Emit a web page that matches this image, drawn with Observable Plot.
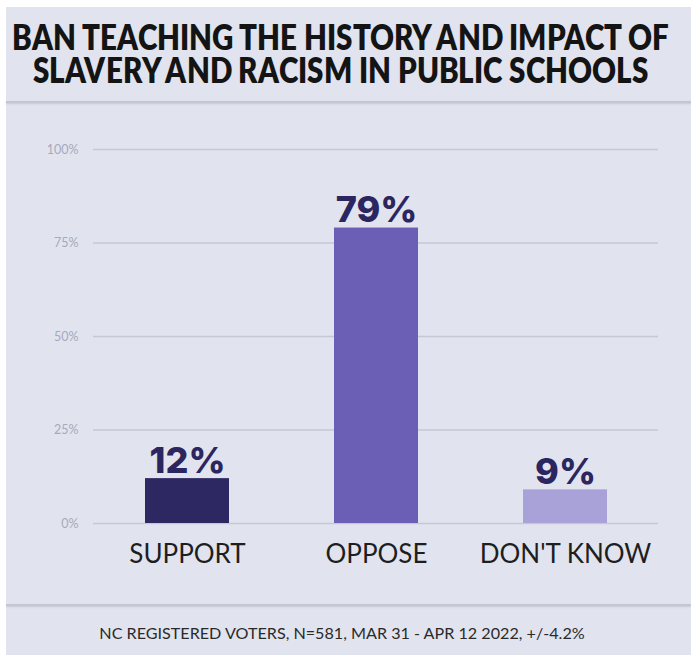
<!DOCTYPE html>
<html>
<head>
<meta charset="utf-8">
<script src="https://cdn.jsdelivr.net/npm/d3@7"></script>
<script src="https://cdn.jsdelivr.net/npm/@observablehq/plot@0.6"></script>
<style>
  @font-face {
    font-family: "TitleLato";
    src: local("Lato Black"), local("Lato-Black"), local("Lato Heavy"), local("Lato-Heavy"), local("Lato Bold"), local("Lato-Bold");
    font-weight: 900;
    ascent-override: 80%;
    descent-override: 5%;
    line-gap-override: 0%;
  }
  html, body { margin: 0; padding: 0; background: #ffffff; width: 691px; height: 655px; overflow: hidden; }
  #frame { position: absolute; left: 6px; top: 7px; width: 685px; height: 648px; background: #e1e4ee; }
  .divider { position: absolute; left: 6px; width: 685px; height: 2px; background: #c4c7d3; box-shadow: 0 1px 2px rgba(150,153,170,0.35); }
  #title { position: absolute; top: 20px; white-space: nowrap; transform-origin: 0 0; text-align: center;
           font-family: "TitleLato", Lato, sans-serif; font-weight: 900; color: #141414; line-height: 33px; font-size: 36px; }
  #footer { position: absolute; left: 342px; transform: translateX(-50%); white-space: nowrap;
            font-family: Lato, sans-serif; font-weight: 400; color: #2a2a2a; line-height: 1; }
  #chart { position: absolute; left: 0; top: 110px; }
</style>
</head>
<body>
<div id="frame"></div>
<div class="divider" style="top:101px"></div>
<div class="divider" style="top:604px"></div>
<div id="title"></div>
<div id="footer"></div>
<div id="chart"></div>
<script>
const titleLines = ["BAN TEACHING THE HISTORY AND IMPACT OF", "SLAVERY AND RACISM IN PUBLIC SCHOOLS"];
const footerText = "NC REGISTERED VOTERS, N=581, MAR 31 - APR 12 2022, +/-4.2%";
const categories = ["SUPPORT", "OPPOSE", "DON'T KNOW"];
const values = [12, 79, 9];
const barColors = ["#2d2862", "#6a5fb4", "#a9a2d8"];
const yTicks = [0, 25, 50, 75, 100];

const data = categories.map((c, i) => ({cat: c, value: values[i], color: barColors[i]}));

const ctx = document.createElement("canvas").getContext("2d");
function measure(text, weight, size, family) {
  ctx.font = `${weight} ${size}px ${family}`;
  return ctx.measureText(text).width;
}

// title: one block of two lines, squeezed horizontally to the reference width
{
  const el = document.getElementById("title");
  el.innerHTML = "";
  titleLines.forEach((t, i) => {
    if (i) el.appendChild(document.createElement("br"));
    el.appendChild(document.createTextNode(t));
  });
  const w = measure(titleLines[0], 900, 36, "Lato");
  const s = 658 / w;
  el.style.left = (341 - 658 / 2) + "px";
  el.style.transform = `scaleX(${s})`;
}
// footer: fit size to width
{
  const el = document.getElementById("footer");
  el.textContent = footerText;
  const w = measure(footerText, 400, 100, "Lato");
  el.style.fontSize = (100 * 487 / w) + "px";
  el.style.top = "625px";
}

const chart = Plot.plot({
  width: 691,
  height: 470,
  marginLeft: 93,
  marginRight: 33,
  marginTop: 39,
  marginBottom: 57,
  style: {background: "transparent", fontFamily: "Lato, sans-serif"},
  x: {domain: categories, paddingInner: 0.556, paddingOuter: 0.27, label: null},
  y: {domain: [0, 100], label: null},
  color: {type: "identity"},
  marks: [
    Plot.gridY(yTicks, {stroke: "#c5c8d5", strokeOpacity: 1, strokeWidth: 1.5}),
    Plot.axisY(yTicks, {tickSize: 0, tickPadding: 15, tickFormat: d => d + "%", fontSize: 12.5, fill: "#a7a9bc", label: null}),
    Plot.barY(data, {x: "cat", y: "value", fill: "color"}),
    Plot.text(data, {x: "cat", y: "value", text: d => d.value + "%", lineAnchor: "bottom", dy: -6,
                     fontSize: 36, fontWeight: 800, fontFamily: "Inter, Lato, sans-serif", fill: "#2b2660"}),
    Plot.axisX({tickSize: 0, tickPadding: 21, fontSize: 26, fill: "#1e1e1e", label: null})
  ]
});
document.getElementById("chart").appendChild(chart);
</script>
</body>
</html>
